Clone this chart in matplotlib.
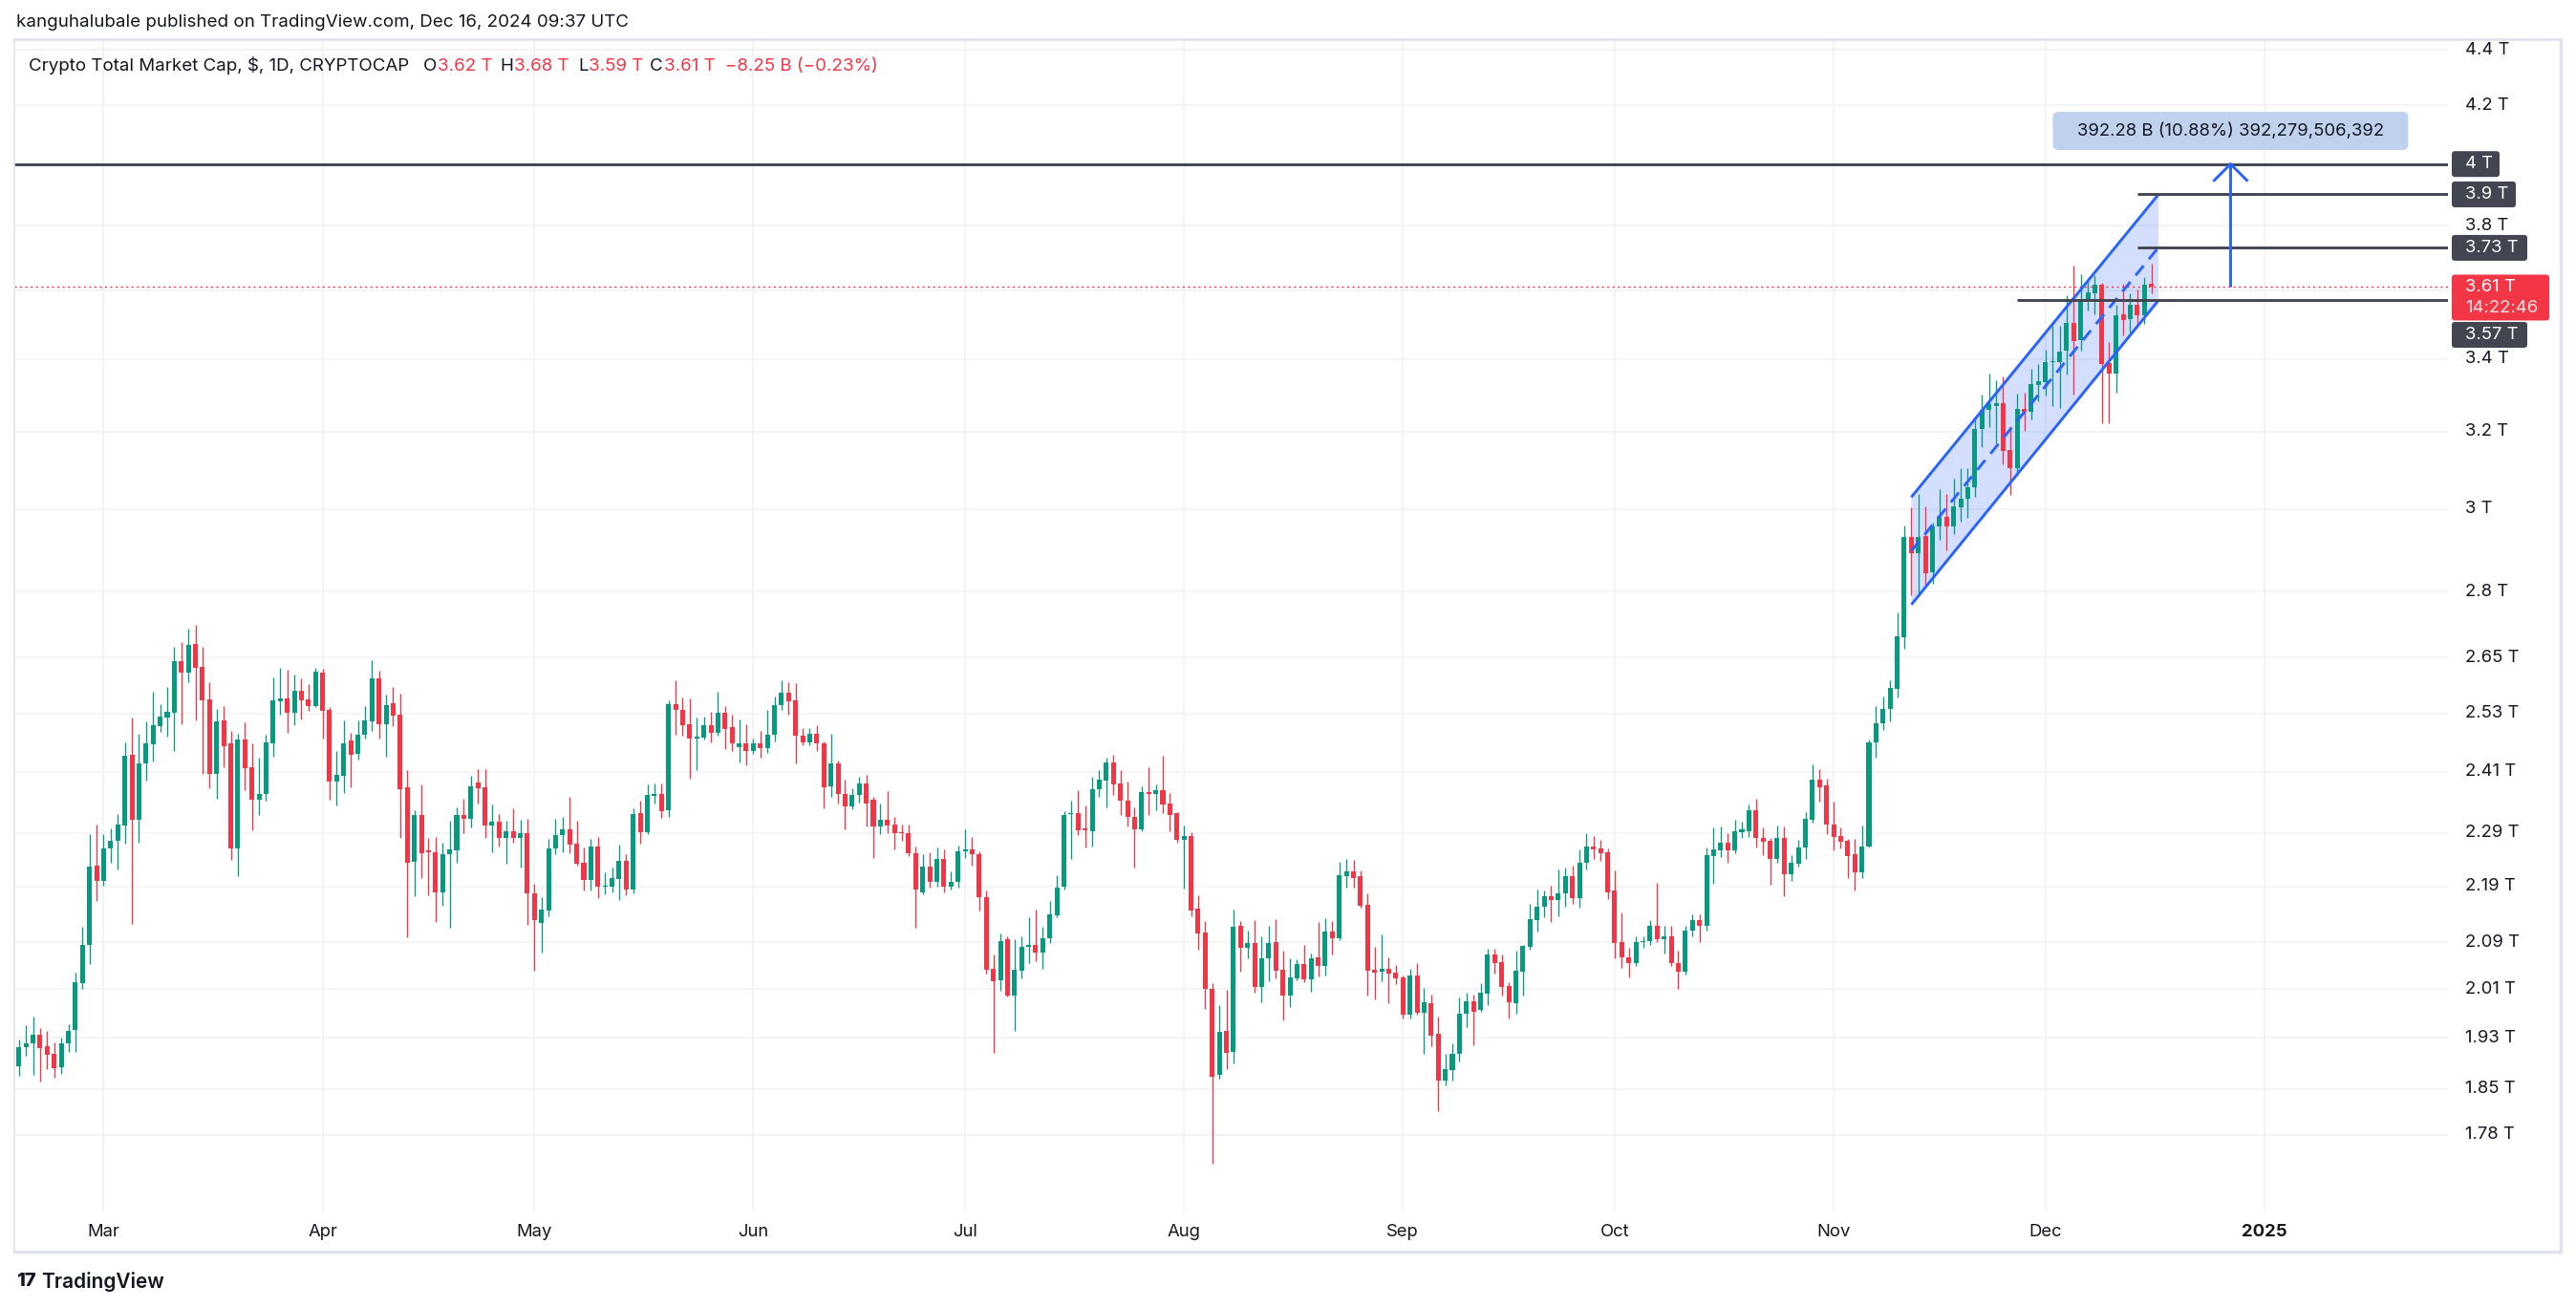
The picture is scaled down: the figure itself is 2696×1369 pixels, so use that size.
import numpy as np
import pandas as pd
import matplotlib
matplotlib.use("Agg")
import matplotlib.pyplot as plt
import matplotlib.dates as mdates
import matplotlib.transforms as mtrans
from matplotlib.patches import Polygon, FancyBboxPatch

plt.rcParams['font.family'] = ['Inter', 'DejaVu Sans']

# ------------------------------------------------------------------ data
start_date = '2024-02-18'
# daily (open, high, low, close) in trillions USD
feb = [(1.885, 1.928, 1.870, 1.916), (1.916, 1.951, 1.901, 1.922), (1.922, 1.965, 1.872, 1.935),
       (1.935, 1.946, 1.861, 1.914), (1.917, 1.942, 1.880, 1.903), (1.905, 1.923, 1.867, 1.882),
       (1.884, 1.930, 1.873, 1.921), (1.921, 1.952, 1.907, 1.942), (1.943, 2.038, 1.908, 2.022),
       (2.021, 2.118, 2.011, 2.086), (2.086, 2.287, 2.053, 2.226), (2.228, 2.306, 2.163, 2.200)]
mar = [(2.200, 2.287, 2.191, 2.261), (2.260, 2.298, 2.233, 2.275), (2.275, 2.326, 2.221, 2.306),
       (2.304, 2.470, 2.270, 2.442), (2.444, 2.521, 2.123, 2.315), (2.315, 2.487, 2.272, 2.426),
       (2.426, 2.513, 2.392, 2.468), (2.466, 2.576, 2.431, 2.505), (2.503, 2.549, 2.491, 2.523),
       (2.521, 2.587, 2.481, 2.533), (2.531, 2.674, 2.452, 2.642), (2.642, 2.685, 2.507, 2.618),
       (2.618, 2.715, 2.597, 2.679), (2.681, 2.724, 2.515, 2.628), (2.630, 2.674, 2.405, 2.558),
       (2.560, 2.597, 2.377, 2.405), (2.405, 2.539, 2.356, 2.513), (2.515, 2.545, 2.419, 2.462),
       (2.468, 2.493, 2.239, 2.261), (2.261, 2.487, 2.209, 2.476), (2.476, 2.511, 2.374, 2.417),
       (2.418, 2.468, 2.295, 2.355), (2.355, 2.438, 2.325, 2.366), (2.365, 2.485, 2.353, 2.470),
       (2.468, 2.607, 2.440, 2.558), (2.556, 2.628, 2.527, 2.562), (2.562, 2.624, 2.489, 2.531),
       (2.531, 2.613, 2.505, 2.578), (2.578, 2.605, 2.517, 2.558), (2.560, 2.593, 2.535, 2.545),
       (2.545, 2.628, 2.543, 2.620)]
apr = [(2.618, 2.626, 2.477, 2.535), (2.537, 2.543, 2.354, 2.390), (2.390, 2.452, 2.343, 2.403),
       (2.402, 2.515, 2.367, 2.468), (2.474, 2.489, 2.379, 2.444), (2.446, 2.515, 2.434, 2.485),
       (2.485, 2.545, 2.477, 2.515), (2.513, 2.644, 2.493, 2.605), (2.605, 2.622, 2.477, 2.507),
       (2.507, 2.570, 2.440, 2.548), (2.552, 2.587, 2.503, 2.525), (2.527, 2.572, 2.280, 2.375),
       (2.379, 2.413, 2.099, 2.234), (2.236, 2.333, 2.172, 2.324), (2.324, 2.384, 2.206, 2.252),
       (2.255, 2.281, 2.174, 2.254), (2.253, 2.283, 2.126, 2.179), (2.179, 2.271, 2.155, 2.250),
       (2.249, 2.314, 2.116, 2.258), (2.257, 2.339, 2.234, 2.324), (2.324, 2.356, 2.290, 2.317),
       (2.317, 2.401, 2.301, 2.380), (2.388, 2.416, 2.346, 2.377), (2.378, 2.416, 2.281, 2.305),
       (2.305, 2.344, 2.253, 2.311), (2.311, 2.326, 2.265, 2.281), (2.281, 2.314, 2.232, 2.294),
       (2.294, 2.337, 2.272, 2.281), (2.281, 2.316, 2.224, 2.290), (2.290, 2.317, 2.121, 2.177)]
may = [(2.178, 2.195, 2.042, 2.130), (2.125, 2.170, 2.073, 2.148), (2.147, 2.278, 2.137, 2.260),
       (2.260, 2.317, 2.249, 2.286), (2.286, 2.320, 2.253, 2.296), (2.297, 2.359, 2.251, 2.267),
       (2.269, 2.314, 2.229, 2.231), (2.234, 2.262, 2.183, 2.201), (2.201, 2.278, 2.182, 2.264),
       (2.264, 2.283, 2.169, 2.189), (2.189, 2.216, 2.175, 2.191), (2.189, 2.224, 2.180, 2.205),
       (2.203, 2.267, 2.165, 2.237), (2.237, 2.249, 2.174, 2.185), (2.185, 2.338, 2.177, 2.326),
       (2.328, 2.352, 2.270, 2.292), (2.292, 2.384, 2.287, 2.363), (2.362, 2.387, 2.346, 2.365),
       (2.365, 2.387, 2.318, 2.332), (2.334, 2.558, 2.320, 2.549), (2.549, 2.601, 2.486, 2.537),
       (2.538, 2.564, 2.484, 2.506), (2.507, 2.562, 2.396, 2.477), (2.477, 2.521, 2.413, 2.481),
       (2.480, 2.523, 2.476, 2.505), (2.505, 2.533, 2.469, 2.490), (2.490, 2.576, 2.484, 2.531),
       (2.531, 2.545, 2.456, 2.498), (2.501, 2.527, 2.452, 2.468), (2.460, 2.517, 2.428, 2.468),
       (2.468, 2.507, 2.422, 2.452)]
jun = [(2.452, 2.477, 2.446, 2.468), (2.468, 2.493, 2.438, 2.458), (2.458, 2.537, 2.448, 2.485),
       (2.485, 2.566, 2.472, 2.547), (2.547, 2.601, 2.537, 2.574), (2.574, 2.597, 2.527, 2.555),
       (2.557, 2.595, 2.426, 2.483), (2.483, 2.499, 2.463, 2.470), (2.470, 2.499, 2.463, 2.487),
       (2.487, 2.506, 2.451, 2.467), (2.468, 2.471, 2.338, 2.378), (2.380, 2.487, 2.359, 2.426),
       (2.426, 2.432, 2.346, 2.365), (2.366, 2.394, 2.297, 2.342), (2.342, 2.377, 2.336, 2.364),
       (2.363, 2.400, 2.349, 2.386), (2.386, 2.404, 2.303, 2.346), (2.355, 2.360, 2.243, 2.303),
       (2.303, 2.346, 2.288, 2.315), (2.315, 2.372, 2.289, 2.305), (2.306, 2.321, 2.258, 2.289),
       (2.290, 2.306, 2.275, 2.289), (2.290, 2.306, 2.247, 2.251), (2.252, 2.264, 2.116, 2.185),
       (2.179, 2.250, 2.175, 2.227), (2.227, 2.253, 2.187, 2.199), (2.199, 2.263, 2.189, 2.241),
       (2.241, 2.259, 2.180, 2.189), (2.189, 2.218, 2.184, 2.199), (2.198, 2.266, 2.187, 2.255)]
jul = [(2.256, 2.296, 2.243, 2.258), (2.259, 2.282, 2.229, 2.249), (2.250, 2.256, 2.146, 2.170),
       (2.171, 2.183, 2.036, 2.043), (2.044, 2.069, 1.906, 2.024), (2.025, 2.105, 2.008, 2.093),
       (2.095, 2.100, 1.998, 1.999), (1.999, 2.095, 1.942, 2.043), (2.042, 2.100, 2.029, 2.083),
       (2.083, 2.134, 2.054, 2.085), (2.085, 2.148, 2.058, 2.073), (2.073, 2.117, 2.044, 2.098),
       (2.097, 2.163, 2.089, 2.139), (2.138, 2.210, 2.134, 2.188), (2.189, 2.332, 2.184, 2.325),
       (2.326, 2.353, 2.241, 2.328), (2.328, 2.373, 2.286, 2.295), (2.298, 2.343, 2.263, 2.295),
       (2.293, 2.400, 2.265, 2.375), (2.375, 2.413, 2.360, 2.394), (2.393, 2.438, 2.340, 2.428),
       (2.428, 2.445, 2.363, 2.385), (2.387, 2.413, 2.324, 2.352), (2.353, 2.390, 2.302, 2.320),
       (2.320, 2.340, 2.225, 2.296), (2.296, 2.381, 2.294, 2.369), (2.369, 2.419, 2.325, 2.366),
       (2.366, 2.384, 2.334, 2.373), (2.373, 2.443, 2.328, 2.345), (2.347, 2.367, 2.294, 2.325),
       (2.328, 2.330, 2.272, 2.277)]
aug = [(2.277, 2.305, 2.186, 2.284), (2.284, 2.292, 2.136, 2.147), (2.150, 2.174, 2.077, 2.106),
       (2.107, 2.128, 1.977, 2.011), (2.011, 2.020, 1.738, 1.868), (1.871, 1.983, 1.866, 1.940),
       (1.941, 2.009, 1.880, 1.906), (1.907, 2.148, 1.890, 2.118), (2.120, 2.128, 2.040, 2.081),
       (2.081, 2.111, 2.063, 2.089), (2.089, 2.130, 2.005, 2.014), (2.014, 2.101, 1.988, 2.063),
       (2.063, 2.119, 2.024, 2.089), (2.091, 2.131, 2.029, 2.042), (2.043, 2.076, 1.959, 2.000),
       (2.000, 2.063, 1.981, 2.030), (2.028, 2.061, 2.025, 2.053), (2.053, 2.086, 2.022, 2.027),
       (2.027, 2.071, 2.006, 2.063), (2.064, 2.126, 2.032, 2.050), (2.050, 2.133, 2.033, 2.109),
       (2.109, 2.128, 2.069, 2.097), (2.097, 2.236, 2.094, 2.210), (2.208, 2.241, 2.187, 2.217),
       (2.217, 2.239, 2.187, 2.206), (2.208, 2.220, 2.152, 2.155), (2.157, 2.177, 1.999, 2.042),
       (2.043, 2.082, 1.993, 2.038), (2.039, 2.104, 2.024, 2.044), (2.044, 2.064, 1.987, 2.037),
       (2.038, 2.051, 2.019, 2.029)]
sep = [(2.030, 2.033, 1.962, 1.968), (1.968, 2.044, 1.962, 2.033), (2.033, 2.055, 1.968, 1.971),
       (1.971, 2.012, 1.905, 1.989), (1.987, 2.001, 1.917, 1.933), (1.937, 1.965, 1.815, 1.862),
       (1.862, 1.904, 1.855, 1.880), (1.879, 1.922, 1.863, 1.905), (1.904, 1.996, 1.893, 1.970),
       (1.969, 2.004, 1.947, 1.990), (1.990, 2.001, 1.919, 1.973), (1.975, 2.020, 1.972, 2.004),
       (2.003, 2.079, 1.983, 2.069), (2.069, 2.079, 2.036, 2.055), (2.056, 2.069, 2.000, 2.014),
       (2.015, 2.022, 1.962, 1.988), (1.986, 2.076, 1.969, 2.042), (2.040, 2.086, 2.000, 2.084),
       (2.082, 2.159, 2.077, 2.131), (2.129, 2.184, 2.109, 2.153), (2.153, 2.182, 2.135, 2.173),
       (2.173, 2.192, 2.126, 2.165), (2.165, 2.222, 2.136, 2.178), (2.177, 2.224, 2.153, 2.208),
       (2.208, 2.229, 2.158, 2.168), (2.168, 2.259, 2.152, 2.233), (2.233, 2.290, 2.222, 2.264),
       (2.264, 2.284, 2.240, 2.259), (2.261, 2.277, 2.238, 2.252), (2.254, 2.261, 2.167, 2.180)]
oct_ = [(2.182, 2.220, 2.063, 2.089), (2.091, 2.143, 2.046, 2.065), (2.065, 2.080, 2.030, 2.055),
        (2.055, 2.100, 2.050, 2.090), (2.090, 2.100, 2.080, 2.092), (2.092, 2.130, 2.085, 2.120),
        (2.120, 2.196, 2.090, 2.095), (2.095, 2.120, 2.070, 2.100), (2.100, 2.120, 2.050, 2.055),
        (2.055, 2.075, 2.010, 2.040), (2.040, 2.120, 2.035, 2.110), (2.110, 2.140, 2.100, 2.130),
        (2.130, 2.140, 2.090, 2.120), (2.120, 2.262, 2.110, 2.248), (2.247, 2.300, 2.195, 2.259),
        (2.257, 2.302, 2.244, 2.271), (2.271, 2.289, 2.233, 2.257), (2.257, 2.315, 2.252, 2.294),
        (2.292, 2.311, 2.281, 2.296), (2.294, 2.345, 2.282, 2.334), (2.334, 2.356, 2.262, 2.280),
        (2.281, 2.300, 2.248, 2.273), (2.275, 2.281, 2.193, 2.241), (2.241, 2.304, 2.233, 2.281),
        (2.281, 2.302, 2.172, 2.212), (2.212, 2.248, 2.200, 2.233), (2.231, 2.277, 2.226, 2.262),
        (2.262, 2.330, 2.240, 2.317), (2.316, 2.424, 2.309, 2.394), (2.394, 2.415, 2.351, 2.379),
        (2.382, 2.396, 2.287, 2.306)]
nov = [(2.306, 2.351, 2.257, 2.282), (2.284, 2.300, 2.261, 2.273), (2.275, 2.278, 2.205, 2.247),
       (2.249, 2.278, 2.182, 2.216), (2.216, 2.304, 2.205, 2.264), (2.264, 2.475, 2.262, 2.470),
       (2.470, 2.545, 2.438, 2.509), (2.509, 2.566, 2.495, 2.539), (2.539, 2.601, 2.514, 2.585),
       (2.583, 2.752, 2.564, 2.698), (2.696, 2.958, 2.671, 2.930), (2.930, 3.004, 2.791, 2.892),
       (2.892, 3.039, 2.795, 2.932), (2.934, 3.007, 2.814, 2.844), (2.845, 2.967, 2.818, 2.957),
       (2.957, 3.049, 2.924, 2.981), (2.981, 3.039, 2.899, 2.956), (2.956, 3.076, 2.938, 3.007),
       (3.004, 3.105, 2.968, 3.026), (3.026, 3.105, 2.977, 3.056), (3.056, 3.238, 3.031, 3.207),
       (3.207, 3.301, 3.160, 3.258), (3.259, 3.359, 3.212, 3.273), (3.270, 3.340, 3.170, 3.277),
       (3.277, 3.350, 3.113, 3.150), (3.151, 3.216, 3.036, 3.105), (3.105, 3.303, 3.085, 3.261),
       (3.261, 3.306, 3.201, 3.253), (3.253, 3.372, 3.233, 3.329), (3.327, 3.385, 3.283, 3.338)]
dec = [(3.336, 3.426, 3.297, 3.390), (3.390, 3.494, 3.268, 3.394), (3.392, 3.496, 3.265, 3.420),
       (3.424, 3.586, 3.357, 3.504), (3.504, 3.674, 3.301, 3.452), (3.455, 3.650, 3.424, 3.574),
       (3.574, 3.636, 3.539, 3.593), (3.591, 3.647, 3.530, 3.618), (3.618, 3.624, 3.223, 3.386),
       (3.388, 3.448, 3.223, 3.360), (3.360, 3.557, 3.305, 3.526), (3.528, 3.621, 3.467, 3.512),
       (3.514, 3.590, 3.476, 3.557), (3.557, 3.604, 3.490, 3.526), (3.526, 3.641, 3.501, 3.618),
       (3.620, 3.680, 3.590, 3.610)]

price_ticks = [4.4, 4.2, 3.8, 3.4, 3.2, 3.0, 2.8, 2.65, 2.53, 2.41, 2.29, 2.19, 2.09, 2.01, 1.93, 1.85, 1.78]
hidden_grid = [4.0, 3.6]
tick_labels = ['4.4 T', '4.2 T', '3.8 T', '3.4 T', '3.2 T', '3 T', '2.8 T', '2.65 T', '2.53 T', '2.41 T',
               '2.29 T', '2.19 T', '2.09 T', '2.01 T', '1.93 T', '1.85 T', '1.78 T']
month_starts = ['2024-03-01', '2024-04-01', '2024-05-01', '2024-06-01', '2024-07-01', '2024-08-01',
                '2024-09-01', '2024-10-01', '2024-11-01', '2024-12-01', '2025-01-01']
month_labels = ['Mar', 'Apr', 'May', 'Jun', 'Jul', 'Aug', 'Sep', 'Oct', 'Nov', 'Dec', '2025']

# drawings
level_4t = 4.0
level_39 = 3.9
level_373 = 3.73
level_357 = 3.57
last_price = 3.61
ray_39_start = '2024-12-14'
ray_357_start = '2024-11-27'
channel_dates = ['2024-11-12', '2024-12-17']
channel_upper = [3.03, 3.90]
channel_lower = [2.77, 3.57]
arrow_date = '2024-12-27 05:00'
measure_text = '392.28 B (10.88%) 392,279,506,392'
measure_price = 4.112

header1 = 'kanguhalubale published on TradingView.com, Dec 16, 2024 09:37 UTC'
header2 = 'Crypto Total Market Cap, $, 1D, CRYPTOCAP'
ohlc_header = [('O', '3.62 T'), ('H', '3.68 T'), ('L', '3.59 T'), ('C', '3.61 T')]
change_text = '\u22128.25 B (\u22120.23%)'

# ------------------------------------------------------------------ style
GREEN = '#089981'
RED = '#F23645'
BLUE = '#2962FF'
DARK = '#434651'
TEXT = '#131722'
GRID = '#F0F2F5'
BORDER = '#E0E3EB'
FS_HEAD = 13.5
FS_AX = 13.3

W, H, DPI = 2696, 1369, 100
fig = plt.figure(figsize=(W / DPI, H / DPI), dpi=DPI, facecolor='white')
PX = mtrans.Affine2D().scale(1.0 / DPI) + fig.dpi_scale_trans   # pixels, origin bottom-left

PANE_L, PANE_R, PANE_T, PANE_B = 15, 2562, 41, 1268
OUT_R, OUT_B = 2680, 1310

ax = fig.add_axes([PANE_L / W, 1 - PANE_B / H, (PANE_R - PANE_L) / W, (PANE_B - PANE_T) / H])
ax.set_axis_off()
ax.set_yscale('log')
mar1 = mdates.date2num(pd.Timestamp('2024-03-01'))
x_left, x_right = mar1 - 12.65, mar1 + 332.0
ax.set_xlim(x_left, x_right)
ax.set_ylim(1.670, 4.439)

# grid
for v in price_ticks + hidden_grid:
    ax.axhline(v, color=GRID, lw=1.2, zorder=0)
for d in month_starts:
    ax.axvline(mdates.date2num(pd.Timestamp(d)), color=GRID, lw=1.2, zorder=0)

# candles
data = np.array(feb + mar + apr + may + jun + jul + aug + sep + oct_ + nov + dec)
dates = pd.date_range(start_date, periods=len(data), freq='D')
x = mdates.date2num(dates)
o, h, l, c = data[:, 0], data[:, 1], data[:, 2], data[:, 3]
cols = np.where(c >= o, GREEN, RED)
ax.vlines(x, l, h, colors=cols, lw=0.95, zorder=3)
lo = np.minimum(o, c)
hi = np.maximum(np.maximum(o, c), lo * 1.0013)
ax.bar(x, hi - lo, bottom=lo, width=0.68, color=cols, linewidth=0, zorder=3.2)

# last price dotted line
ax.axhline(last_price, color=RED, lw=1.0, ls=(0, (1.5, 2.5)), zorder=2)

# channel
cx = [mdates.date2num(pd.Timestamp(d)) for d in channel_dates]
mid = [np.sqrt(a * b) for a, b in zip(channel_upper, channel_lower)]
ax.add_patch(Polygon([(cx[0], channel_upper[0]), (cx[1], channel_upper[1]),
                      (cx[1], channel_lower[1]), (cx[0], channel_lower[0])],
                     closed=True, fc=BLUE, alpha=0.2, ec='none', zorder=1.5))
ax.plot(cx, channel_upper, color=BLUE, lw=2.1, zorder=5, solid_capstyle='butt')
ax.plot(cx, channel_lower, color=BLUE, lw=2.1, zorder=5, solid_capstyle='butt')
ax.plot(cx, mid, color=BLUE, lw=2.1, ls=(0, (4.5, 3.0)), zorder=5)

# horizontal levels
ax.hlines(level_4t, x_left, x_right, color=DARK, lw=2.1, zorder=5)
ax.hlines([level_39, level_373], mdates.date2num(pd.Timestamp(ray_39_start)), x_right, color=DARK, lw=2.1, zorder=5)
ax.hlines(level_357, mdates.date2num(pd.Timestamp(ray_357_start)), x_right, color=DARK, lw=2.1, zorder=5)

# arrow
xa = mdates.date2num(pd.Timestamp(arrow_date))
ax.plot([xa, xa], [last_price, level_4t], color=BLUE, lw=2.1, zorder=6, solid_capstyle='butt')
def dpx(v):
    return ax.transData.transform((xa, v))
tip = dpx(level_4t)
arm = 17
ax.add_line(matplotlib.lines.Line2D([tip[0] - arm, tip[0], tip[0] + arm], [tip[1] - arm, tip[1], tip[1] - arm],
                                    transform=PX, color=BLUE, lw=2.1, zorder=6, solid_joinstyle='miter'))

# measure label box
mc = dpx(measure_price)
bw, bh = 372, 40
fig.add_artist(FancyBboxPatch((mc[0] - bw / 2, mc[1] - bh / 2), bw, bh,
                              boxstyle='round,pad=0,rounding_size=6', transform=PX,
                              fc='#BFD1EC', ec='none', zorder=7))
fig.text(mc[0] / W, mc[1] / H, measure_text, ha='center', va='center', fontsize=FS_AX, color=TEXT, zorder=8)

# ------------------------------------------------------------------ frame
def hline_px(y, x0, x1, lw, color=BORDER):
    fig.add_artist(matplotlib.lines.Line2D([x0, x1], [H - y, H - y], transform=PX, color=color, lw=lw))
def vline_px(xp, y0, y1, lw, color=BORDER):
    fig.add_artist(matplotlib.lines.Line2D([xp, xp], [H - y0, H - y1], transform=PX, color=color, lw=lw))

hline_px(PANE_T, PANE_L, OUT_R, 2.0)
hline_px(OUT_B, PANE_L, OUT_R, 2.5)
vline_px(PANE_L, PANE_T, OUT_B, 1.2)
vline_px(OUT_R, PANE_T, OUT_B, 2.5)

# ------------------------------------------------------------------ price axis
def ypix(v):
    return ax.transData.transform((x_left, v))[1]

for v, s in zip(price_ticks, tick_labels):
    fig.text(2580 / W, ypix(v) / H, s, ha='left', va='center', fontsize=FS_AX, color=TEXT)

def axis_box(yc, text, width, color=DARK, height=27, text2=None):
    fig.add_artist(FancyBboxPatch((2566, yc - height / 2), width, height,
                                  boxstyle='round,pad=0,rounding_size=3', transform=PX,
                                  fc=color, ec='none', zorder=9))
    if text2 is None:
        fig.text(2580 / W, yc / H, text, ha='left', va='center', fontsize=FS_AX, color='white', zorder=10)
    else:
        fig.text(2580 / W, (yc + 11) / H, text, ha='left', va='center', fontsize=FS_AX, color='white', zorder=10)
        fig.text(2580 / W, (yc - 11) / H, text2, ha='left', va='center', fontsize=FS_AX,
                 color='#FFE3E6', zorder=10)

axis_box(ypix(level_4t), '4 T', 50)
axis_box(ypix(level_39), '3.9 T', 67)
axis_box(ypix(level_373), '3.73 T', 79)
axis_box(ypix(last_price) - 11, '3.61 T', 102, color=RED, height=48, text2='14:22:46')
axis_box(ypix(last_price) - 50, '3.57 T', 79)

# ------------------------------------------------------------------ time axis
for d, s in zip(month_starts, month_labels):
    xp = ax.transData.transform((mdates.date2num(pd.Timestamp(d)), 2.0))[0]
    fig.text(xp / W, 1 - 1290 / H, s, ha='center', va='center', fontsize=FS_AX, color=TEXT,
             fontweight='bold' if s == '2025' else 'normal')

# ------------------------------------------------------------------ headers
fig.text(17 / W, 1 - 24 / H, header1, ha='left', va='center', fontsize=FS_HEAD, color=TEXT)
fig.text(30 / W, 1 - 69 / H, header2, ha='left', va='center', fontsize=FS_HEAD, color=TEXT)
renderer = fig.canvas.get_renderer()
group_x = [443, 523, 605, 680]
for gx, (letter, val) in zip(group_x, ohlc_header):
    t = fig.text(gx / W, 1 - 69 / H, letter, ha='left', va='center', fontsize=FS_HEAD, color=TEXT)
    wpx = t.get_window_extent(renderer).width
    fig.text((gx + wpx + 1) / W, 1 - 69 / H, val, ha='left', va='center', fontsize=FS_HEAD, color=RED)
fig.text(759 / W, 1 - 69 / H, change_text, ha='left', va='center', fontsize=FS_HEAD, color=RED)

# logo
fig.text(17 / W, 1 - 1341 / H, '17', ha='left', va='center', fontsize=14.5, fontweight='heavy', color=TEXT)
fig.text(43 / W, 1 - 1341 / H, 'TradingView', ha='left', va='center', fontsize=15, fontweight='semibold',
         color=TEXT)

fig.savefig('out.png', dpi=DPI, facecolor='white')
